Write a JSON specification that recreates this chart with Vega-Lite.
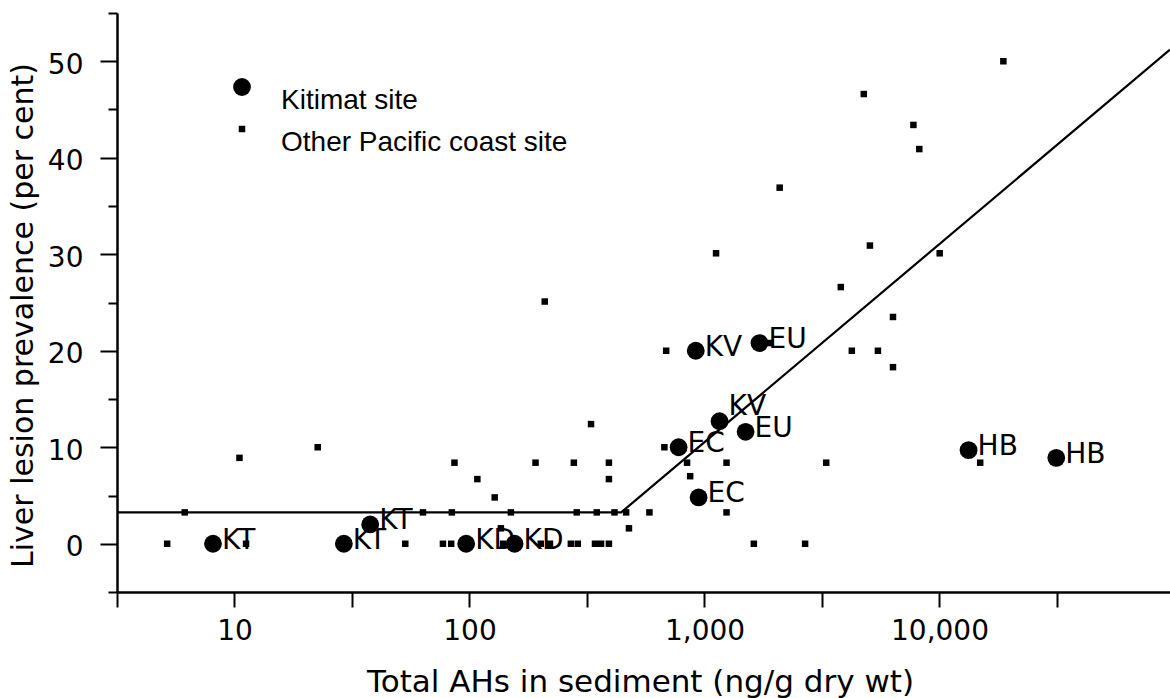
{
  "$schema": "https://vega.github.io/schema/vega-lite/v6.json",
  "width": 1053,
  "height": 579,
  "autosize": {"type": "none"},
  "padding": {"left": 117, "top": 13, "right": 0, "bottom": 106},
  "background": "white",
  "config": {"view": {"stroke": null}, "font": "DejaVu Sans"},
  "datasets": {
    "fit": [
      {"x": 3.1623, "y": 3.25},
      {"x": 442, "y": 3.25},
      {"x": 95700, "y": 51.2}
    ],
    "pts": [
      {"x": 5.17, "y": 0, "group": "Other Pacific coast site", "label": ""},
      {"x": 11.2, "y": 0, "group": "Other Pacific coast site", "label": ""},
      {"x": 53.3, "y": 0, "group": "Other Pacific coast site", "label": ""},
      {"x": 77.1, "y": 0, "group": "Other Pacific coast site", "label": ""},
      {"x": 83.6, "y": 0, "group": "Other Pacific coast site", "label": ""},
      {"x": 139, "y": 0, "group": "Other Pacific coast site", "label": ""},
      {"x": 201, "y": 0, "group": "Other Pacific coast site", "label": ""},
      {"x": 220, "y": 0, "group": "Other Pacific coast site", "label": ""},
      {"x": 270, "y": 0, "group": "Other Pacific coast site", "label": ""},
      {"x": 289, "y": 0, "group": "Other Pacific coast site", "label": ""},
      {"x": 342, "y": 0, "group": "Other Pacific coast site", "label": ""},
      {"x": 363, "y": 0, "group": "Other Pacific coast site", "label": ""},
      {"x": 392, "y": 0, "group": "Other Pacific coast site", "label": ""},
      {"x": 1622, "y": 0, "group": "Other Pacific coast site", "label": ""},
      {"x": 2680, "y": 0, "group": "Other Pacific coast site", "label": ""},
      {"x": 6.14, "y": 3.25, "group": "Other Pacific coast site", "label": ""},
      {"x": 63.4, "y": 3.25, "group": "Other Pacific coast site", "label": ""},
      {"x": 84.1, "y": 3.25, "group": "Other Pacific coast site", "label": ""},
      {"x": 150, "y": 3.25, "group": "Other Pacific coast site", "label": ""},
      {"x": 286, "y": 3.25, "group": "Other Pacific coast site", "label": ""},
      {"x": 348, "y": 3.25, "group": "Other Pacific coast site", "label": ""},
      {"x": 414, "y": 3.25, "group": "Other Pacific coast site", "label": ""},
      {"x": 464, "y": 3.25, "group": "Other Pacific coast site", "label": ""},
      {"x": 583, "y": 3.25, "group": "Other Pacific coast site", "label": ""},
      {"x": 1241, "y": 3.25, "group": "Other Pacific coast site", "label": ""},
      {"x": 136, "y": 1.6, "group": "Other Pacific coast site", "label": ""},
      {"x": 477, "y": 1.6, "group": "Other Pacific coast site", "label": ""},
      {"x": 128, "y": 4.8, "group": "Other Pacific coast site", "label": ""},
      {"x": 108, "y": 6.7, "group": "Other Pacific coast site", "label": ""},
      {"x": 392, "y": 6.7, "group": "Other Pacific coast site", "label": ""},
      {"x": 869, "y": 7.0, "group": "Other Pacific coast site", "label": ""},
      {"x": 10.5, "y": 8.9, "group": "Other Pacific coast site", "label": ""},
      {"x": 86.3, "y": 8.4, "group": "Other Pacific coast site", "label": ""},
      {"x": 191, "y": 8.4, "group": "Other Pacific coast site", "label": ""},
      {"x": 278, "y": 8.4, "group": "Other Pacific coast site", "label": ""},
      {"x": 392, "y": 8.4, "group": "Other Pacific coast site", "label": ""},
      {"x": 843, "y": 8.4, "group": "Other Pacific coast site", "label": ""},
      {"x": 1241, "y": 8.4, "group": "Other Pacific coast site", "label": ""},
      {"x": 3296, "y": 8.4, "group": "Other Pacific coast site", "label": ""},
      {"x": 14900, "y": 8.4, "group": "Other Pacific coast site", "label": ""},
      {"x": 22.6, "y": 10, "group": "Other Pacific coast site", "label": ""},
      {"x": 675, "y": 10, "group": "Other Pacific coast site", "label": ""},
      {"x": 329, "y": 12.4, "group": "Other Pacific coast site", "label": ""},
      {"x": 6340, "y": 18.3, "group": "Other Pacific coast site", "label": ""},
      {"x": 687, "y": 20, "group": "Other Pacific coast site", "label": ""},
      {"x": 4236, "y": 20, "group": "Other Pacific coast site", "label": ""},
      {"x": 5470, "y": 20, "group": "Other Pacific coast site", "label": ""},
      {"x": 1910, "y": 20.8, "group": "Other Pacific coast site", "label": ""},
      {"x": 6340, "y": 23.5, "group": "Other Pacific coast site", "label": ""},
      {"x": 209, "y": 25.1, "group": "Other Pacific coast site", "label": ""},
      {"x": 3802, "y": 26.6, "group": "Other Pacific coast site", "label": ""},
      {"x": 1120, "y": 30.1, "group": "Other Pacific coast site", "label": ""},
      {"x": 10020, "y": 30.1, "group": "Other Pacific coast site", "label": ""},
      {"x": 5058, "y": 30.9, "group": "Other Pacific coast site", "label": ""},
      {"x": 2089, "y": 36.9, "group": "Other Pacific coast site", "label": ""},
      {"x": 8204, "y": 40.9, "group": "Other Pacific coast site", "label": ""},
      {"x": 7745, "y": 43.4, "group": "Other Pacific coast site", "label": ""},
      {"x": 4764, "y": 46.6, "group": "Other Pacific coast site", "label": ""},
      {"x": 18700, "y": 50, "group": "Other Pacific coast site", "label": ""},
      {"x": 8.1, "y": 0, "group": "Kitimat site", "label": "KT"},
      {"x": 29.2, "y": 0, "group": "Kitimat site", "label": "KT"},
      {"x": 37.8, "y": 2.0, "group": "Kitimat site", "label": "KT"},
      {"x": 96.8, "y": 0, "group": "Kitimat site", "label": "KD"},
      {"x": 155.6, "y": 0, "group": "Kitimat site", "label": "KD"},
      {"x": 918, "y": 20, "group": "Kitimat site", "label": "KV"},
      {"x": 1714, "y": 20.8, "group": "Kitimat site", "label": "EU"},
      {"x": 1159, "y": 12.7, "group": "Kitimat site", "label": "KV"},
      {"x": 1496, "y": 11.6, "group": "Kitimat site", "label": "EU"},
      {"x": 776, "y": 10.0, "group": "Kitimat site", "label": "EC"},
      {"x": 944, "y": 4.8, "group": "Kitimat site", "label": "EC"},
      {"x": 13300, "y": 9.7, "group": "Kitimat site", "label": "HB"},
      {"x": 31400, "y": 8.9, "group": "Kitimat site", "label": "HB"}
    ]
  },
  "layer": [
    {
      "data": {"name": "fit"},
      "mark": {"type": "line", "color": "black", "strokeWidth": 2.2},
      "encoding": {
        "x": {
          "field": "x", "type": "quantitative",
          "scale": {"type": "log", "domain": [3.1623, 95700], "nice": false},
          "axis": {
            "values": [3.1623, 10, 31.623, 100, 316.23, 1000, 3162.3, 10000, 31623],
            "labelExpr": "(datum.value == 10 || datum.value == 100 || datum.value == 1000 || datum.value == 10000) ? format(datum.value, ',') : ''",
            "grid": false,
            "tickSize": 15, "tickWidth": 2, "tickColor": "black",
            "domainColor": "black", "domainWidth": 2.5,
            "labelFont": "DejaVu Sans", "labelFontSize": 28, "labelColor": "black",
            "labelPadding": 10, "labelFlush": false, "labelOverlap": false,
            "title": "Total AHs in sediment (ng/g dry wt)",
            "titleFont": "DejaVu Sans", "titleFontSize": 31, "titleFontWeight": "normal", "titleColor": "black",
            "titleX": 523, "titleY": 99, "titleAlign": "center", "titleBaseline": "alphabetic"
          }
        },
        "y": {
          "field": "y", "type": "quantitative",
          "scale": {"domain": [-5, 55], "nice": false, "zero": false},
          "axis": {
            "values": [-5, 0, 5, 10, 15, 20, 25, 30, 35, 40, 45, 50, 55],
            "labelExpr": "(datum.value % 10 == 0 && datum.value >= 0 && datum.value <= 50) ? datum.label : ''",
            "grid": false,
            "tickSize": {"condition": {"test": "datum.value % 10 == 0", "value": 17}, "value": 9},
            "tickWidth": 2, "tickColor": "black",
            "domainColor": "black", "domainWidth": 2.5,
            "labelFont": "DejaVu Sans", "labelFontSize": 28, "labelColor": "black",
            "labelPadding": 17, "labelOffset": 4, "labelFlush": false, "labelOverlap": false,
            "title": "Liver lesion prevalence (per cent)",
            "titleFont": "DejaVu Sans", "titleFontSize": 30, "titleFontWeight": "normal", "titleColor": "black",
            "titleX": -94, "titleY": 302, "titleAngle": -90, "titleAlign": "center", "titleBaseline": "middle"
          }
        }
      }
    },
    {
      "data": {"name": "pts"},
      "mark": {"type": "point", "filled": true, "color": "black", "opacity": 1, "size": 317, "strokeWidth": 0},
      "encoding": {
        "x": {"field": "x", "type": "quantitative"},
        "y": {"field": "y", "type": "quantitative"},
        "shape": {
          "field": "group", "type": "nominal",
          "scale": {
            "domain": ["Kitimat site", "Other Pacific coast site"],
            "range": ["circle", "M-0.365,-0.365H0.365V0.365H-0.365Z"]
          },
          "legend": {
            "orient": "none", "legendX": 111, "legendY": 60,
            "title": null, "padding": 0,
            "labelFont": "Liberation Sans", "labelFontSize": 28, "labelColor": "black",
            "labelBaseline": "top", "labelOffset": 25, "labelLimit": 0,
            "rowPadding": -3, "symbolSize": 317,
            "symbolFillColor": "black", "symbolStrokeWidth": 0, "symbolOpacity": 1
          }
        }
      }
    },
    {
      "data": {"name": "pts"},
      "transform": [{"filter": "datum.label != '' && !(datum.label == 'KV' && datum.y < 15)"}],
      "mark": {"type": "text", "align": "left", "baseline": "middle", "dx": 9, "dy": -3, "font": "DejaVu Sans", "fontSize": 28, "color": "black"},
      "encoding": {
        "x": {"field": "x", "type": "quantitative"},
        "y": {"field": "y", "type": "quantitative"},
        "text": {"field": "label", "type": "nominal"}
      }
    },
    {
      "data": {"name": "pts"},
      "transform": [{"filter": "datum.label == 'KV' && datum.y < 15"}],
      "mark": {"type": "text", "align": "left", "baseline": "middle", "dx": 9, "dy": -14, "font": "DejaVu Sans", "fontSize": 28, "color": "black"},
      "encoding": {
        "x": {"field": "x", "type": "quantitative"},
        "y": {"field": "y", "type": "quantitative"},
        "text": {"field": "label", "type": "nominal"}
      }
    },
    {
      "mark": {"type": "rule", "color": "black", "strokeWidth": 2.5},
      "encoding": {"y": {"datum": 55}}
    }
  ]
}
